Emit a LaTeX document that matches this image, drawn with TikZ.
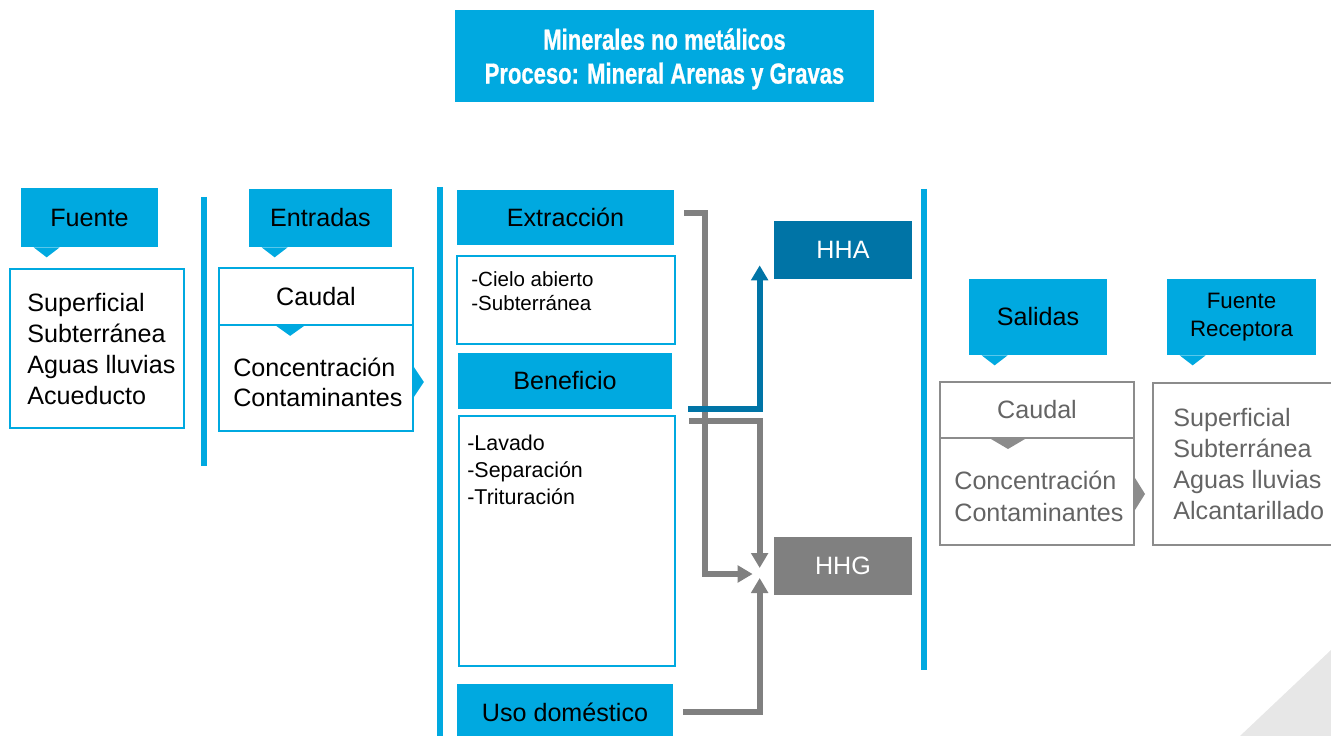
\documentclass[tikz,border=0pt]{standalone}
\usepackage{fontspec}
\setmainfont{Liberation Sans}
\newfontfamily\titlefont[FakeStretch=0.76,FakeBold=0.8]{Liberation Sans}
\usetikzlibrary{arrows.meta}
\definecolor{procblue}{RGB}{0,169,224}
\definecolor{hhablue}{RGB}{0,116,166}
\definecolor{hhgray}{RGB}{128,128,128}
\definecolor{outgray}{RGB}{140,140,140}
\definecolor{outtext}{RGB}{100,100,100}
\definecolor{cornergray}{RGB}{231,231,231}
\newcommand\pxu{0.02cm}
\newcommand\droptip[4]{
        \fill [#4] ([shift={(#2,0)}]#1.south west) -- ++(#3,0) -- ++(-#3/2,10) -- cycle;
}
\newcommand\sidetip[4]{
        \fill [#4] ([shift={(0,#2)}]#1.east) -- ++(10,#3) -- ++(-10,#3) -- cycle;
}
\begin{document}
\begin{tikzpicture}[x=\pxu, y=-\pxu,
        headtab/.style={fill=procblue, inner sep=0pt, align=center, font=\fontsize{14.3}{17.2}\selectfont},
        boxsize/.style 2 args={minimum width=#1*\pxu, minimum height=#2*\pxu},
        listbox/.style={draw=procblue, line width=0.035cm, inner sep=0pt, font=\fontsize{14.3}{17.2}\selectfont},
        outbox/.style={draw=outgray, line width=0.04cm, inner sep=0pt, text=outtext, font=\fontsize{14.3}{17.2}\selectfont},
        bigtext/.style={font=\fontsize{14.3}{17.6}\selectfont, align=left, inner sep=0pt, anchor=west},
        smalltext/.style={font=\fontsize{11.7}{13.6}\selectfont, align=left, inner sep=0pt, anchor=west},
        hhnode/.style={text=white, inner sep=0pt, boxsize={138}{58}, font=\fontsize{14.3}{17.2}\selectfont},
        sepline/.style={procblue, line width=0.12cm},
        flow/.style={line width=0.12cm, -{Triangle[width=0.33cm, length=0.3cm]}}
        ]
        \useasboundingbox (0,0) rectangle (1331,736);
        \fill [cornergray] (1331,650) -- (1331,736) -- (1240,736) -- cycle;
        \node [fill=procblue, boxsize={419}{92}] (title) at (664.5,56) {};
        \node [text=white, align=center, inner sep=0pt,
          font=\titlefont\bfseries\fontsize{16.5}{19.3}\selectfont] (titletext) at (664.5,59)
          {Minerales no metálicos\\Proceso: Mineral Arenas y Gravas};

        \node [headtab, boxsize={137}{59}] (fuentetab) at (89.5,217.5) {Fuente};
        \node [listbox, boxsize={174}{159}] (fuente) at (97,348.5) {};
        \node [bigtext] (fuentelist) at (27,349) {Superficial\\Subterránea\\Aguas lluvias\\Acueducto};

        \node [headtab, boxsize={143}{58}] (entradastab) at (320.5,218) {Entradas};
        \node [listbox, boxsize={194}{57}] (caudalin) at (316,296.5) {Caudal};
        \node [listbox, boxsize={194}{106}] (concin) at (316,378) {};
        \node [bigtext, font=\fontsize{14.3}{17}\selectfont] (concintxt) at (233,382) {Concentración\\Contaminantes};

        \node [headtab, boxsize={217}{55}] (extraccion) at (565.5,217.5) {Extracción};
        \node [listbox, boxsize={218}{88}] (extrbox) at (566,300) {};
        \node [smalltext] (extrlist) at (471,291) {-Cielo abierto\\-Subterránea};
        \node [headtab, boxsize={214}{56}] (beneficio) at (565,381) {Beneficio};
        \node [listbox, boxsize={216}{250}] (benefbox) at (567,541) {};
        \node [smalltext, font=\fontsize{12.2}{15.3}\selectfont] (beneflist) at (467,470) {-Lavado\\-Separación\\-Trituración};
        \node [headtab, boxsize={216}{56}] (uso) at (565,712) {Uso doméstico};

        \node [hhnode, fill=hhablue] (hha) at (843,250) {HHA};
        \node [hhnode, fill=hhgray] (hhg) at (843,566) {HHG};

        \node [headtab, boxsize={138}{76}] (salidastab) at (1038,317) {Salidas};
        \node [headtab, boxsize={149}{76}, font=\fontsize{12.7}{15.9}\selectfont] (receptoratab) at (1241.5,317) {Fuente\\Receptora};
        \node [outbox, boxsize={194}{56}] (caudalout) at (1037,410) {Caudal};
        \node [outbox, boxsize={194}{107}] (concout) at (1037,491.5) {};
        \node [bigtext, text=outtext, font=\fontsize{14.3}{18.1}\selectfont] (concouttxt) at (954,496) {Concentración\\Contaminantes};
        \node [outbox, boxsize={200}{162}] (receptora) at (1253,464) {};
        \node [bigtext, text=outtext] (receptoralist) at (1173,464) {Superficial\\Subterránea\\Aguas lluvias\\Alcantarillado};

        \droptip{fuentetab}{13}{26}{procblue}
        \droptip{entradastab}{13}{26}{procblue}
        \droptip{salidastab}{13}{26}{procblue}
        \droptip{receptoratab}{13}{26}{procblue}
        \droptip{caudalin}{58}{28}{procblue}
        \droptip{caudalout}{52}{34}{outgray}
        \sidetip{concin}{-11}{15}{procblue}
        \sidetip{concout}{-13.5}{16}{outgray}

        \draw [sepline] (203.5,197) -- (203.5,466);
        \draw [sepline] (440,187) -- (440,736);
        \draw [sepline] (923.5,189) -- (923.5,670);

        \begin{scope}[color=hhgray]
          \draw [flow] ([shift={(10,-4.5)}]extraccion.east) -| ([shift={(-69,8)}]hhg.west) -- ([shift={(-21,8)}]hhg.west);
          \draw [flow] ([shift={(13,5.5)}]benefbox.north east) -| ([shift={(-14,2)}]hhg.west);
          \draw [flow] ([xshift=10*\pxu]uso.east) -| ([shift={(-14,12)}]hhg.west);
        \end{scope}
        \draw [flow, color=hhablue] ([xshift=16*\pxu]beneficio.south east) -| ([shift={(-14,-14)}]hha.south west);
\end{tikzpicture}
\end{document}
